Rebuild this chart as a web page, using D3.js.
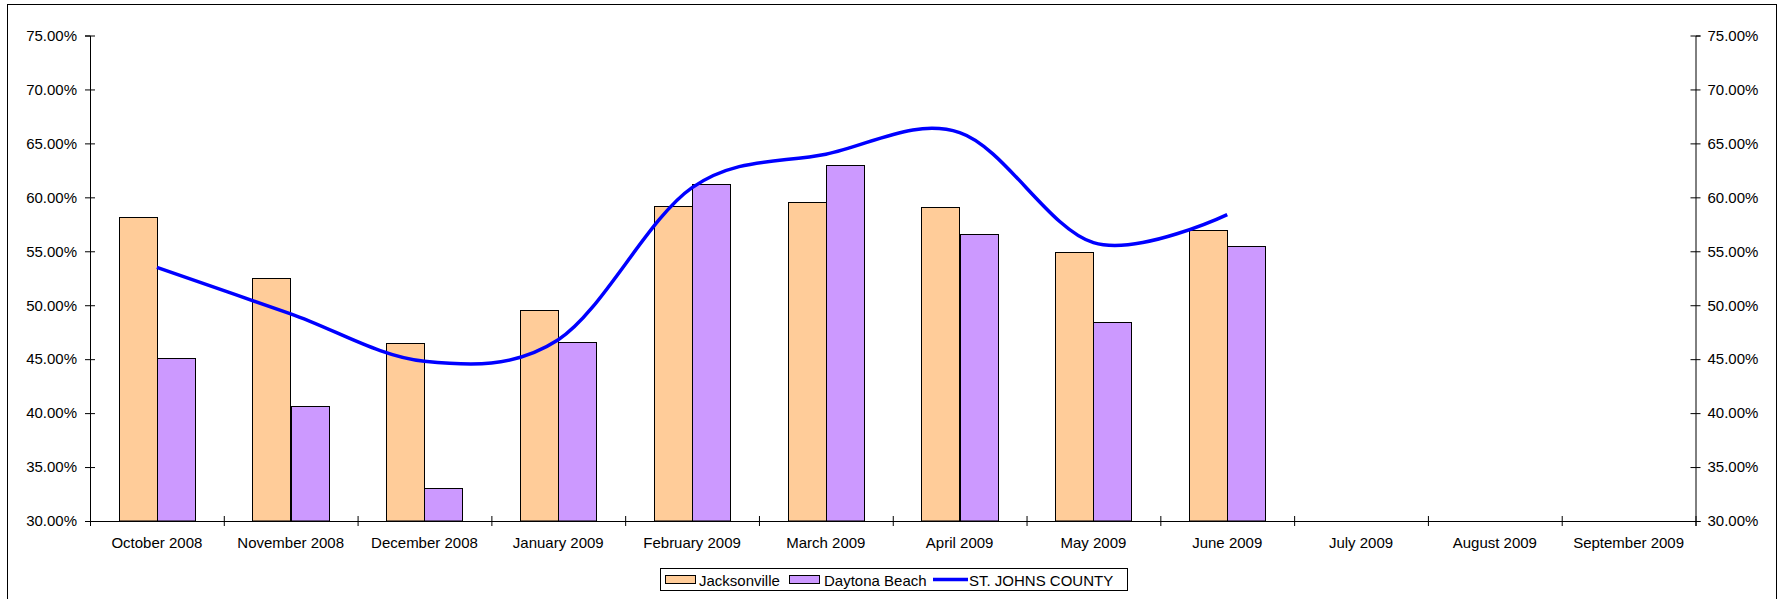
<!DOCTYPE html>
<html>
<head>
<meta charset="utf-8">
<script src="https://cdn.jsdelivr.net/npm/d3@7"></script>
<style>
  html, body { margin: 0; padding: 0; background: #fff; }
  svg { display: block; }
  text { font-family: "Liberation Sans", Arial, sans-serif; }
</style>
</head>
<body>
<svg id="chart" width="1781" height="599"></svg>
<script>
const categories = ["October 2008","November 2008","December 2008","January 2009","February 2009","March 2009","April 2009","May 2009","June 2009","July 2009","August 2009","September 2009"];
const seriesNames = ["Jacksonville","Daytona Beach","ST. JOHNS COUNTY"];
const jacksonville = [58.2, 52.5, 46.5, 49.6, 59.2, 59.6, 59.1, 54.9, 57.0];
const daytonaBeach = [45.1, 40.7, 33.1, 46.6, 61.2, 63.0, 56.6, 48.4, 55.5];
const stJohns = [53.5, 49.2, 44.8, 46.8, 60.9, 64.0, 66.0, 55.8, 58.4];
const yTicks = [30, 35, 40, 45, 50, 55, 60, 65, 70, 75];
const colors = { "Jacksonville": "#FFCC99", "Daytona Beach": "#CC99FF", "ST. JOHNS COUNTY": "#0000FF" };

const svg = d3.select("#chart");
const L = 90, R = 1695.5, T = 35.5, B = 521;

// outer border
svg.append("rect").attr("x", 7.5).attr("y", 4.5).attr("width", 1769).attr("height", 600)
  .attr("fill", "#fff").attr("stroke", "#000").attr("stroke-width", 1);

const x = d3.scaleBand().domain(categories).range([L, R]).paddingInner(0).paddingOuter(0);
const x1 = d3.scaleBand().domain(["Jacksonville","Daytona Beach"]).range([0, x.bandwidth()]).paddingInner(0).paddingOuter(0.75);
const y = d3.scaleLinear().domain([30, 75]).range([B, T]);

// bars
const barData = [];
jacksonville.forEach((v, i) => barData.push({ cat: categories[i], s: "Jacksonville", v }));
daytonaBeach.forEach((v, i) => barData.push({ cat: categories[i], s: "Daytona Beach", v }));
svg.append("g").selectAll("rect").data(barData).join("rect")
  .attr("x", d => Math.round(x(d.cat) + x1(d.s)) + 0.5)
  .attr("y", d => Math.round(y(d.v)) + 0.5)
  .attr("width", d => Math.round(x1.bandwidth()))
  .attr("height", d => B - Math.round(y(d.v)) - 0.5)
  .attr("fill", d => colors[d.s])
  .attr("stroke", "#000").attr("stroke-width", 1);

const fmt = v => d3.format(".2f")(v) + "%";

// left axis
const gl = svg.append("g").attr("transform", `translate(${L},0)`)
  .call(d3.axisLeft(y).tickValues(yTicks).tickFormat(fmt).tickSize(5).tickPadding(8));
gl.selectAll(".tick line").attr("x1", -5).attr("x2", 5);
// right axis
const gr = svg.append("g").attr("transform", `translate(${R},0)`)
  .call(d3.axisRight(y).tickValues(yTicks).tickFormat(fmt).tickSize(5).tickPadding(7));
gr.selectAll(".tick line").attr("x1", -5).attr("x2", 5);
// bottom axis
const catTicks = categories.map((c, i) => i).concat([categories.length]);
const xb = d3.scaleLinear().domain([0, categories.length]).range([L, R]);
const gb = svg.append("g").attr("transform", `translate(0,${B})`)
  .call(d3.axisBottom(xb).tickValues(catTicks).tickFormat("").tickSize(5));
gb.selectAll(".tick line").attr("y1", -5).attr("y2", 5);
svg.append("g").selectAll("text").data(categories).join("text")
  .attr("x", d => x(d) + x.bandwidth() / 2)
  .attr("y", B + 27)
  .attr("text-anchor", "middle")
  .attr("font-size", 15)
  .attr("fill", "#000")
  .text(d => d);

[gl, gr, gb].forEach(g => {
  g.select(".domain").attr("stroke", "#000");
  g.selectAll(".tick line").attr("stroke", "#000");
  g.selectAll(".tick text").attr("font-size", 15).attr("fill", "#000")
    .attr("font-family", '"Liberation Sans", Arial, sans-serif');
});

// line
const line = d3.line()
  .x((d, i) => x(categories[i]) + x.bandwidth() / 2)
  .y(d => y(d))
  .curve(d3.curveCardinal.tension(0));
svg.append("path").datum(stJohns)
  .attr("d", line)
  .attr("fill", "none")
  .attr("stroke", colors["ST. JOHNS COUNTY"])
  .attr("stroke-width", 3.5)
  .attr("stroke-linejoin", "round");

// legend
const lg = svg.append("g");
lg.append("rect").attr("x", 660.5).attr("y", 568.5).attr("width", 467).attr("height", 22)
  .attr("fill", "#fff").attr("stroke", "#000").attr("stroke-width", 1);
const legendItems = [
  { name: "Jacksonville", sx: 665, tx: 699, type: "bar" },
  { name: "Daytona Beach", sx: 789, tx: 824, type: "bar" },
  { name: "ST. JOHNS COUNTY", sx: 933, tx: 969, type: "line" }
];
legendItems.forEach(it => {
  if (it.type === "bar") {
    lg.append("rect").attr("x", it.sx + 0.5).attr("y", 575.5).attr("width", 30).attr("height", 8)
      .attr("fill", colors[it.name]).attr("stroke", "#000").attr("stroke-width", 1);
  } else {
    lg.append("line").attr("x1", it.sx).attr("x2", it.sx + 35).attr("y1", 579.5).attr("y2", 579.5)
      .attr("stroke", colors[it.name]).attr("stroke-width", 3.5);
  }
  lg.append("text").attr("x", it.tx).attr("y", 585.5).attr("font-size", 15).attr("fill", "#000").text(it.name);
});
</script>
</body>
</html>
